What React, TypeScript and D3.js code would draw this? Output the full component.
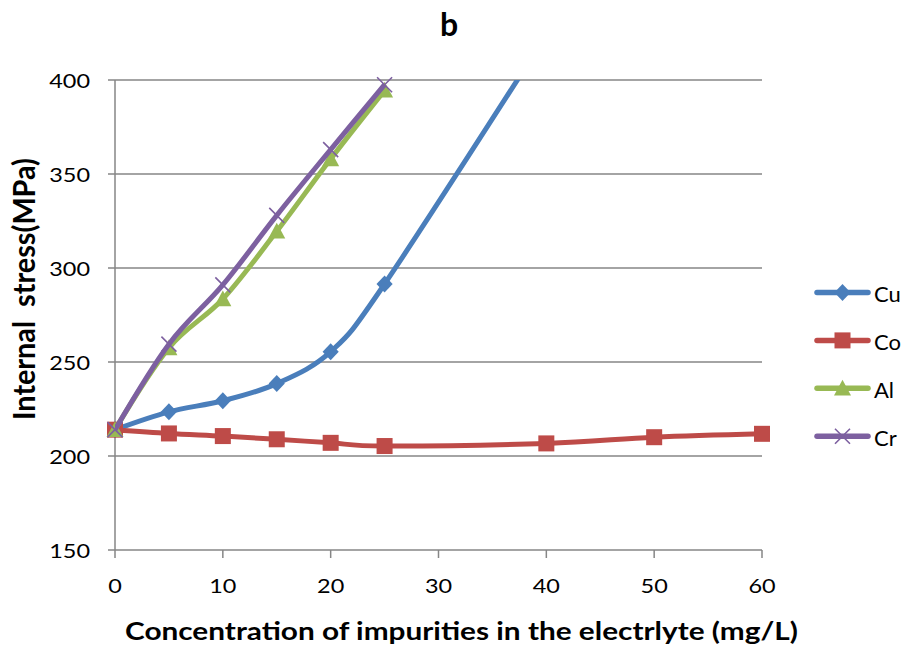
import React from "react";
import * as d3 from "d3";

const xTicks = [0, 10, 20, 30, 40, 50, 60];
const yTicks = [150, 200, 250, 300, 350, 400];

const cuX = [0, 5, 10, 15, 20, 25, 40];
const cuY = [214, 223.5, 229.4, 238.5, 255.5, 291.5, 424];
const coX = [0, 5, 10, 15, 20, 25, 40, 50, 60];
const coY = [214, 212, 210.6, 208.9, 207, 205.3, 206.7, 210, 211.8];
const alX = [0, 5, 10, 15, 20, 25];
const alY = [214, 257.5, 283.5, 319.5, 358, 394.5];
const crX = [0, 5, 10, 15, 20, 25];
const crY = [214, 259.5, 291, 328, 363, 397.5];

const seriesNames = ["Cu", "Co", "Al", "Cr"];
const colors = ["#4A7EBB", "#BE4B48", "#98B954", "#7D60A0"];
const markers = ["diamond", "square", "triangle", "cross"];

const W = 905, H = 647;
const left = 115, right = 762, top = 80, bottom = 550;
const font = "Lato, 'Open Sans', sans-serif";

function Marker({ type, x, y, color }: { type: string; x: number; y: number; color: string }) {
  if (type === "diamond") {
    const s = 8.5;
    return <path d={`M${x},${y - s}L${x + s * 0.95},${y}L${x},${y + s}L${x - s * 0.95},${y}Z`} fill={color} />;
  }
  if (type === "square") {
    const s = 8;
    return <rect x={x - s} y={y - s} width={2 * s} height={2 * s} fill={color} />;
  }
  if (type === "triangle") {
    const s = 8.5;
    return <path d={`M${x},${y - s}L${x + s},${y + s * 0.85}L${x - s},${y + s * 0.85}Z`} fill={color} />;
  }
  const s = 7.5;
  return (
    <path d={`M${x - s},${y - s}L${x + s},${y + s}M${x + s},${y - s}L${x - s},${y + s}`} stroke={color} strokeWidth={1.6} fill="none" />
  );
}

export default function App() {
  const x = d3.scaleLinear().domain([0, 60]).range([left, right]);
  const y = d3.scaleLinear().domain([150, 400]).range([bottom, top]);
  const line = d3
    .line<[number, number]>()
    .x((d) => x(d[0]))
    .y((d) => y(d[1]))
    .curve(d3.curveCardinal.tension(0));

  const data = [
    { xs: cuX, ys: cuY },
    { xs: coX, ys: coY },
    { xs: alX, ys: alY },
    { xs: crX, ys: crY },
  ].map((s) => s.xs.map((v, i) => [v, s.ys[i]] as [number, number]));

  const grid = "#868686";
  const digitW = 13.6;
  return (
    <svg width={W} height={H} style={{ position: "absolute", left: 0, top: 0, background: "#fff" }}>
      <defs>
        <clipPath id="plot">
          <rect x={left} y={top} width={right - left + 20} height={bottom - top} />
        </clipPath>
      </defs>
      <text x={449} y={36} textAnchor="middle" fontFamily={font} fontWeight="bold" fontSize={32}>b</text>
      {yTicks.map((t) => (
        <g key={t}>
          <line x1={left - 7} x2={right} y1={y(t)} y2={y(t)} stroke={grid} strokeWidth={1.5} />
          <text
            x={90 - String(t).length * digitW}
            y={y(t) + 7.5}
            fontFamily={font}
            fontSize={19}
            fill="#000"
            textLength={String(t).length * digitW}
            lengthAdjust="spacingAndGlyphs"
          >
            {t}
          </text>
        </g>
      ))}
      <line x1={left} x2={left} y1={top} y2={bottom} stroke={grid} strokeWidth={1.5} />
      {xTicks.map((t) => (
        <g key={t}>
          <line x1={x(t)} x2={x(t)} y1={bottom} y2={bottom + 8} stroke={grid} strokeWidth={1.5} />
          <text
            x={x(t) - (String(t).length * digitW) / 2}
            y={593}
            fontFamily={font}
            fontSize={19.5}
            fill="#000"
            textLength={String(t).length * digitW}
            lengthAdjust="spacingAndGlyphs"
          >
            {t}
          </text>
        </g>
      ))}
      <text
        x={125}
        y={640}
        fontFamily={font}
        fontWeight="bold"
        fontSize={25}
        textLength={673}
        lengthAdjust="spacingAndGlyphs"
      >
        Concentration of impurities in the electrlyte (mg/L)
      </text>
      <g transform={`translate(35,289) scale(1.22,1) rotate(-90)`}>
        <text
          x={-131}
          y={0}
          fontFamily={font}
          fontWeight="bold"
          fontSize={25}
          textLength={262}
          lengthAdjust="spacingAndGlyphs"
          xmlSpace="preserve"
        >
          Internal  stress(MPa)
        </text>
      </g>
      {data.map((pts, i) => (
        <g key={i}>
          <path d={line(pts) || ""} fill="none" stroke={colors[i]} strokeWidth={5} clipPath="url(#plot)" strokeLinejoin="round" />
          {pts
            .filter((p) => p[1] <= 400)
            .map((p, j) => (
              <Marker key={j} type={markers[i]} x={x(p[0])} y={y(p[1])} color={colors[i]} />
            ))}
        </g>
      ))}
      {seriesNames.map((n, i) => {
        const ly = 292.5 + i * 47.9;
        return (
          <g key={n}>
            <line x1={817} x2={868} y1={ly} y2={ly} stroke={colors[i]} strokeWidth={5.5} strokeLinecap="round" />
            <Marker type={markers[i]} x={842.5} y={ly} color={colors[i]} />
            <text x={874} y={ly + 9.5} fontFamily={font} fontSize={22} fill="#000">{n}</text>
          </g>
        );
      })}
    </svg>
  );
}
